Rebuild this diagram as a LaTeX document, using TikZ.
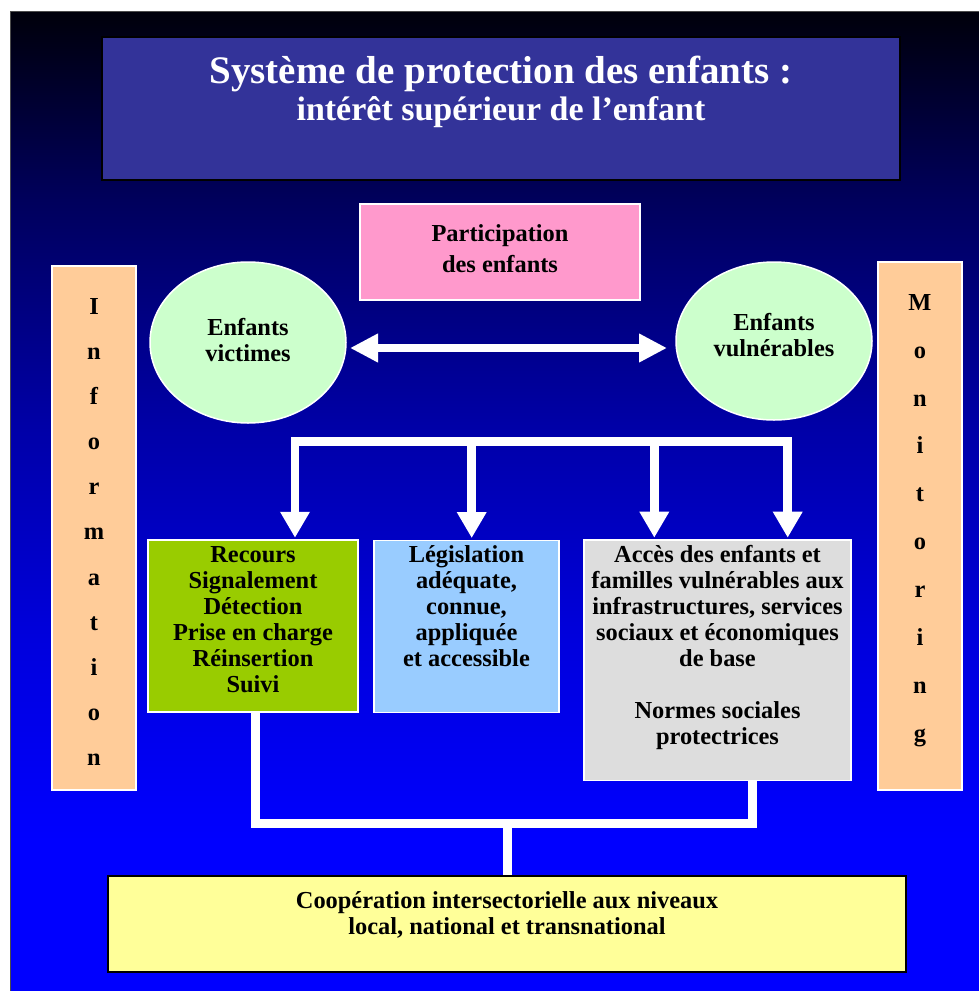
\documentclass[tikz,border=0pt]{standalone}
\usepackage{fontspec}
\setmainfont{Liberation Serif}
\usetikzlibrary{shapes.geometric,arrows.meta}
\pgfdeclareverticalshading{bgshade}{100bp}{rgb(0bp)=(0,0,1); rgb(25bp)=(0,0,1); rgb(32.7bp)=(0,0,1); rgb(42.9bp)=(0,0,0.867); rgb(53.6bp)=(0,0,0.66); rgb(65.4bp)=(0,0,0.36); rgb(75bp)=(0,0,0.04); rgb(100bp)=(0,0,0.04)}
\definecolor{titlefill}{HTML}{333399}
\definecolor{pinkfill}{HTML}{FF99CC}
\definecolor{mintfill}{HTML}{CCFFCC}
\definecolor{peachfill}{HTML}{FFCC99}
\definecolor{greenfill}{HTML}{99CC00}
\definecolor{bluefill}{HTML}{99CCFF}
\definecolor{grayfill}{HTML}{DDDDDD}
\definecolor{yellowfill}{HTML}{FFFF99}
\tikzset{
  wbox/.style={rectangle, draw=white, line width=1.5pt, inner sep=0pt},
  kbox/.style={rectangle, draw=black, line width=2pt, inner sep=0pt},
  oval/.style={ellipse, draw=white, line width=1.5pt, fill=mintfill, inner sep=0pt},
  boxtxt/.style={font=\fontsize{24.4}{26}\selectfont\bfseries, align=center, inner sep=0pt, anchor=north, text=black},
  lettertxt/.style={align=center, inner sep=0pt, anchor=north, text=black},
  wline/.style={draw=white, line width=8.5pt},
  dtip/.tip={Triangle[width=28pt,length=26pt]},
  htip/.tip={Triangle[width=27pt,length=28pt]}
}
\newcommand{\fl}[1]{\rule{0pt}{#1}}
\begin{document}
\begin{tikzpicture}[x=1pt,y=-1pt]
\useasboundingbox (0,0) rectangle (979,991);
\fill[white] (0,0) rectangle (979,991);
\shade[shading=bgshade] (10,11) rectangle (979,991);
\draw[black!70, line width=1pt] (10,991) -- (10,11) -- (979,11);

% title
\node[kbox, fill=titlefill, minimum width=798pt, minimum height=143pt] (title) at (501,108.5) {};
\node[align=center, inner sep=0pt, anchor=north, text=white, font=\fontsize{34}{37}\selectfont\bfseries] (titletxt) at (501,51)
  {{\fontsize{39}{39}\selectfont\fl{32pt}Système de protection des enfants :}\\intérêt supérieur de l’enfant};

% participation
\node[wbox, fill=pinkfill, minimum width=280pt, minimum height=96pt] (part) at (500,252) {};
\node[boxtxt] (parttxt) at (500,223) {\fl{18pt}Participation\\[5pt]des enfants};

% ellipses
\node[oval, minimum width=196pt, minimum height=161pt] (vict) at (248,342.5) {};
\node[boxtxt] (victtxt) at (248,317) {\fl{18pt}Enfants\\victimes};
\node[oval, minimum width=196pt, minimum height=158pt] (vuln) at (774,341) {};
\node[boxtxt] (vulntxt) at (774,312) {\fl{18pt}Enfants\\vulnérables};

% side bars
\node[wbox, fill=peachfill, minimum width=84pt, minimum height=524pt] (info) at (94,528) {};
\node[lettertxt, font=\fontsize{24.4}{45.15}\selectfont\bfseries] (infotxt) at (94,296)
  {\fl{18pt}I\\n\\f\\o\\r\\m\\a\\t\\i\\o\\n};
\node[wbox, fill=peachfill, minimum width=84pt, minimum height=528pt] (moni) at (920,526) {};
\node[lettertxt, font=\fontsize{24.4}{47.9}\selectfont\bfseries] (monitxt) at (920,292)
  {\fl{18pt}M\\o\\n\\i\\t\\o\\r\\i\\n\\g};

% middle boxes
\node[wbox, fill=greenfill, minimum width=210pt, minimum height=172pt] (green) at (253,626) {};
\node[boxtxt] (greentxt) at (253,544) {\fl{18pt}Recours\\Signalement\\Détection\\Prise en charge\\Réinsertion\\Suivi};
\node[wbox, fill=bluefill, minimum width=185pt, minimum height=172pt] (blue) at (466.5,626.3) {};
\node[boxtxt] (bluetxt) at (466.5,544) {\fl{18pt}Législation\\adéquate,\\connue,\\appliquée\\et accessible};
\node[wbox, fill=grayfill, minimum width=267pt, minimum height=240.7pt] (gray) at (717.5,660.3) {};
\node[boxtxt] (graytxt) at (717.5,544) {\fl{18pt}Accès des enfants et\\familles vulnérables aux\\infrastructures, services\\sociaux et économiques\\de base\\[26pt]Normes sociales\\protectrices};

% bottom box
\node[rectangle, draw=black, line width=1.5pt, inner sep=0pt, fill=yellowfill, minimum width=798pt, minimum height=96pt] (coop) at (507,924) {};
\node[boxtxt] (cooptxt) at (507,890) {\fl{18pt}Coopération intersectorielle aux niveaux\\local, national et transnational};

% double arrow
\coordinate (da1) at (350,348);
\coordinate (da2) at (667,348);
\draw[draw=white, fill=white, line width=8pt, {htip}-{htip}] (da1) -- (da2);

% top distribution bus
\coordinate (t1) at (295,441.5);
\coordinate (t2) at (471.7,441.5);
\coordinate (t3) at (654.3,441.5);
\coordinate (t4) at (787.7,441.5);
\draw[wline, line cap=rect] (t1) -- (t4);
\draw[wline, fill=white, -{dtip}, shorten >=1.5pt] (t1) -- (t1 |- green.north);
\draw[wline, fill=white, -{dtip}, shorten >=1.5pt] (t2) -- (t2 |- blue.north);
\draw[wline, fill=white, -{dtip}, shorten >=1.5pt] (t3) -- (t3 |- gray.north);
\draw[wline, fill=white, -{dtip}, shorten >=1.5pt] (t4) -- (t4 |- gray.north);

% bottom collecting bus
\coordinate (b1) at (255.7,823.5);
\coordinate (b2) at (752.4,823.5);
\coordinate (b3) at (507.5,823.5);
\draw[wline, line join=miter] (b1 |- green.south) -- (b1) -- (b2) -- (b2 |- gray.south);
\draw[wline] (b3) -- (b3 |- coop.north);
\end{tikzpicture}
\end{document}
